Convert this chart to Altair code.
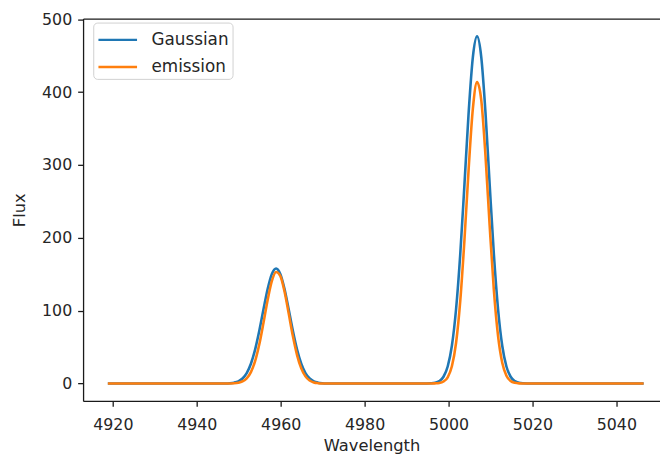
import altair as alt
import pandas as pd

wavelength = [4918.8,
    4946.9, 4947.9, 4948.9, 4949.9, 4950.9, 4951.9, 4952.9, 4953.9, 4954.9, 4955.9, 4956.9, 4957.9,
    4958.9, 4959.9, 4960.9, 4961.9, 4962.9, 4963.9, 4964.9, 4965.9, 4966.9, 4967.9, 4968.9, 4969.9, 4970.9,
    4994.8, 4995.8, 4996.8, 4997.8, 4998.8, 4999.8, 5000.8, 5001.8, 5002.8, 5003.8, 5004.8, 5005.8,
    5006.8, 5007.8, 5008.8, 5009.8, 5010.8, 5011.8, 5012.8, 5013.8, 5014.8, 5015.8, 5016.8, 5017.8, 5018.8,
    5046.5]

gaussian = [0.0,
    0.1, 0.4, 1.2, 3.0, 6.9, 14.4, 27.2, 46.6, 72.4, 101.8, 130.0, 150.5,
    158.0, 150.5, 130.0, 101.8, 72.4, 46.6, 27.2, 14.4, 6.9, 3.0, 1.2, 0.4, 0.1,
    0.1, 0.3, 1.0, 3.3, 9.3, 23.4, 51.9, 102.3, 178.0, 273.8, 372.5, 448.1,
    476.5, 448.1, 372.5, 273.8, 178.0, 102.3, 51.9, 23.4, 9.3, 3.3, 1.0, 0.3, 0.1,
    0.0]

emission = [0.0,
    0.0, 0.1, 0.3, 1.0, 2.8, 7.0, 15.6, 30.7, 53.8, 83.5, 115.1, 140.9,
    153.1, 147.8, 126.6, 96.3, 65.1, 39.0, 20.8, 9.8, 4.1, 1.5, 0.5, 0.1, 0.0,
    0.0, 0.0, 0.2, 0.7, 2.7, 8.6, 23.7, 56.0, 113.7, 197.7, 294.9, 377.2,
    413.7, 389.0, 313.6, 216.9, 128.5, 65.4, 28.5, 10.7, 3.4, 0.9, 0.2, 0.1, 0.0,
    0.0]

series_names = ["Gaussian", "emission"]
series_colors = ["#1f77b4", "#ff7f0e"]
x_ticks = [4920, 4940, 4960, 4980, 5000, 5020, 5040]
y_ticks = [0, 100, 200, 300, 400, 500]

df = pd.concat([
    pd.DataFrame({"Wavelength": wavelength, "Flux": gaussian, "series": series_names[0]}),
    pd.DataFrame({"Wavelength": wavelength, "Flux": emission, "series": series_names[1]}),
])

FONT = "DejaVu Sans"
TXT = "#262626"

xscale = alt.Scale(domain=[4912.9, 5050.4], nice=False, zero=False)
yscale = alt.Scale(domain=[-23.9, 500.9], nice=False, zero=False)
color = alt.Color(
    "series:N",
    scale=alt.Scale(domain=series_names, range=series_colors),
    sort=series_names,
    legend=alt.Legend(
        orient="none", legendX=10.3, legendY=4, title=None,
        symbolType="M-1,0H2.19", symbolStrokeWidth=2.5, symbolSize=600,
        labelFontSize=17, labelFont=FONT, labelColor=TXT, labelOffset=28,
        strokeColor="#d0d0d0", fillColor="white", cornerRadius=4, padding=4,
        rowPadding=5.5,
    ),
)

base = alt.Chart(df)

blue = base.transform_filter(alt.datum.series == series_names[0]).mark_line(
    strokeWidth=2.6, interpolate="monotone"
).encode(
    x=alt.X("Wavelength:Q", scale=xscale, axis=alt.Axis(
        values=x_ticks, format="d", title="Wavelength", orient="bottom",
        labelFontSize=16, titleFontSize=16.5, labelPadding=10, titlePadding=6,
        tickSize=5.5)),
    y=alt.Y("Flux:Q", scale=yscale, axis=alt.Axis(
        values=y_ticks, title="Flux", labelFontSize=16, titleFontSize=16.5,
        labelPadding=6, titlePadding=14, tickSize=5.5)),
    color=color,
)

orange = base.transform_filter(alt.datum.series == series_names[1]).mark_line(
    strokeWidth=2.6, interpolate="monotone"
).encode(
    x=alt.X("Wavelength:Q", scale=xscale, axis=alt.Axis(
        orient="top", labels=False, ticks=False, title=None, domain=True)),
    y=alt.Y("Flux:Q", scale=yscale),
    color=color,
)

chart = alt.layer(blue, orange).resolve_axis(x="independent").properties(
    width=584, height=387,
    autosize=alt.AutoSizeParams(type="none"),
    padding={"left": 76, "top": 8, "right": 0, "bottom": 54},
).configure_view(stroke=None).configure_axis(
    grid=False, domainColor="#1a1a1a", tickColor="#1a1a1a", domainWidth=1.3,
    tickWidth=1.3, labelColor=TXT, titleColor=TXT,
    labelFont=FONT, titleFont=FONT, titleFontWeight="normal",
)

chart.save("out.html", embed_options={"renderer": "svg", "actions": False})
